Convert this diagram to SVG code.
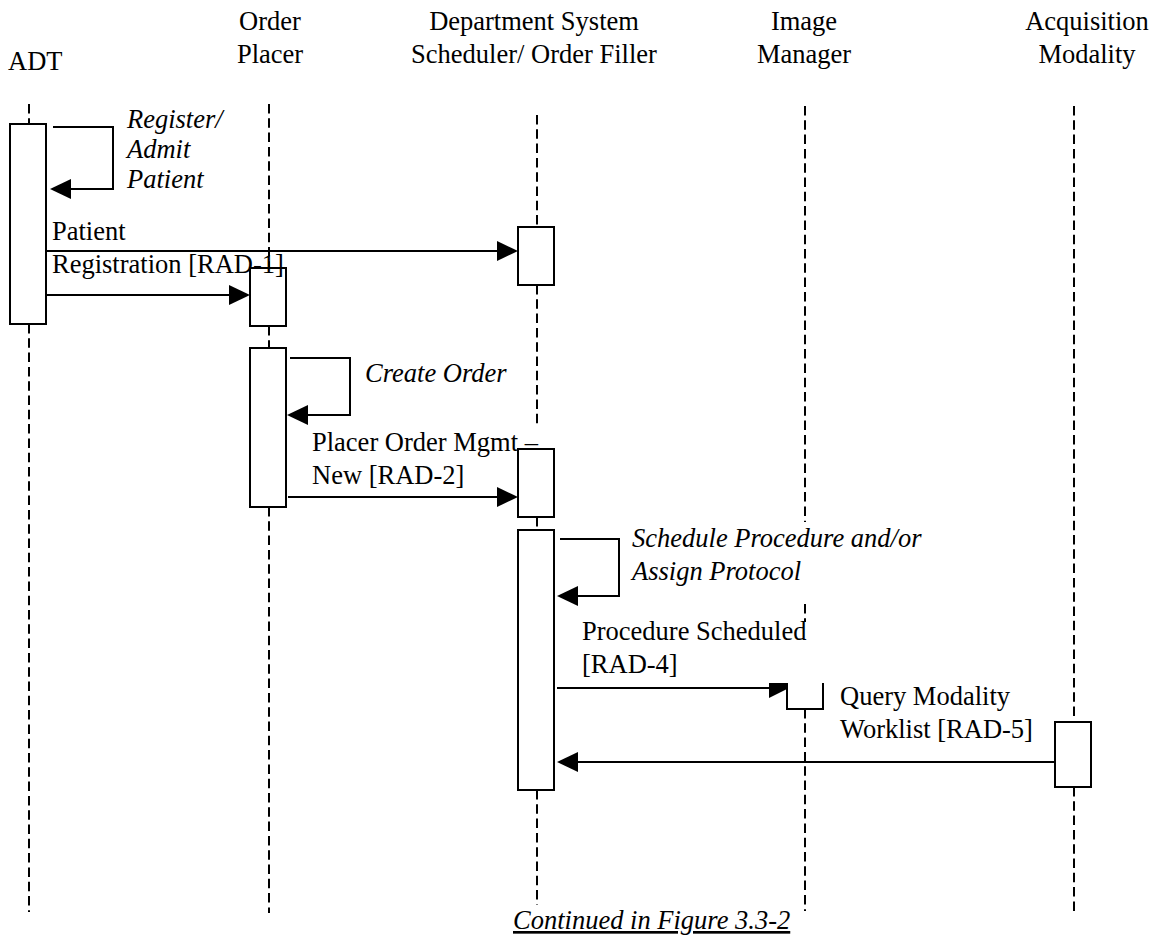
<svg xmlns="http://www.w3.org/2000/svg" width="1152" height="937" viewBox="0 0 1152 937">
<style>
text{font-family:"Liberation Serif","Times New Roman",serif;font-size:26.5px;fill:#000}
.it{font-style:italic}
.mid{text-anchor:middle}
.life{stroke:#000;stroke-width:2;stroke-dasharray:9.5 4.8;fill:none}
.box{fill:#fff;stroke:#000;stroke-width:2}
.msg{stroke:#000;stroke-width:2;fill:none}
.head{fill:#000;stroke:none}
</style>
<rect width="1152" height="937" fill="#fff"/>
<g id="lifelines">
<line class="life" x1="29" y1="104" x2="29" y2="124"/>
<line class="life" x1="29" y1="324" x2="29" y2="912"/>
<line class="life" x1="269" y1="104" x2="269" y2="268"/>
<line class="life" x1="269" y1="326" x2="269" y2="348"/>
<line class="life" x1="269" y1="507" x2="269" y2="913"/>
<line class="life" x1="537" y1="115" x2="537" y2="227"/>
<line class="life" x1="537" y1="285" x2="537" y2="425"/>
<line class="life" x1="537" y1="517" x2="537" y2="530"/>
<line class="life" x1="537" y1="790" x2="537" y2="905"/>
<line class="life" x1="805" y1="106" x2="805" y2="522"/>
<line class="life" x1="805" y1="604" x2="805" y2="622"/>
<line class="life" x1="805" y1="709" x2="805" y2="911"/>
<line class="life" x1="1074" y1="106" x2="1074" y2="722"/>
<line class="life" x1="1074" y1="787" x2="1074" y2="913"/>
</g>
<g id="ADT">
<text x="8" y="70">ADT</text>
<rect class="box" x="10" y="124" width="36" height="200"/>
</g>
<g id="OrderPlacer">
<text class="mid" x="270" y="30">Order</text>
<text class="mid" x="270" y="63">Placer</text>
<rect class="box" x="250" y="268" width="36" height="58"/>
<rect class="box" x="250" y="348" width="36" height="159"/>
</g>
<g id="DSS">
<text class="mid" x="534" y="30">Department System</text>
<text class="mid" x="534" y="63">Scheduler/ Order Filler</text>
<rect class="box" x="518" y="227" width="36" height="58"/>
<rect class="box" x="518" y="449" width="36" height="68"/>
<rect class="box" x="518" y="530" width="36" height="260"/>
</g>
<g id="ImageManager">
<text class="mid" x="804" y="30">Image</text>
<text class="mid" x="804" y="63">Manager</text>
<path class="msg" d="M787,683 V709 H823 V683"/>
</g>
<g id="AcquisitionModality">
<text class="mid" x="1087" y="30">Acquisition</text>
<text class="mid" x="1087" y="63">Modality</text>
<rect class="box" x="1055" y="722" width="36" height="65"/>
</g>
<g id="connectors">
<path class="msg" d="M53,127 H113 V189 H70"/>
<polygon class="head" points="50,189 71,179 71,199"/>
<line class="msg" x1="47" y1="251" x2="500" y2="251"/>
<polygon class="head" points="518,251 497,241 497,261"/>
<line class="msg" x1="47" y1="295" x2="232" y2="295"/>
<polygon class="head" points="250,295 229,285 229,305"/>
<path class="msg" d="M290,358 H350 V415 H305"/>
<polygon class="head" points="287,415 308,405 308,425"/>
<line class="msg" x1="288" y1="497" x2="500" y2="497"/>
<polygon class="head" points="518,497 497,487 497,507"/>
<path class="msg" d="M560,539 H619 V596 H575"/>
<polygon class="head" points="557,596 578,586 578,606"/>
<line class="msg" x1="557" y1="688" x2="772" y2="688"/>
<polygon class="head" points="769,683 787,683 787,689 769,698"/>
<line class="msg" x1="1055" y1="762" x2="575" y2="762"/>
<polygon class="head" points="557,762 578,752 578,772"/>
</g>
<g id="labels">
<text class="it" x="127" y="128">Register/</text>
<text class="it" x="127" y="158">Admit</text>
<text class="it" x="127" y="188">Patient</text>
<text x="52" y="240">Patient</text>
<text x="52" y="273">Registration [RAD-1]</text>
<text class="it" x="365" y="382">Create Order</text>
<text x="312" y="451">Placer Order Mgmt –</text>
<text x="312" y="484">New [RAD-2]</text>
<text class="it" x="632" y="547">Schedule Procedure and/or</text>
<text class="it" x="632" y="580">Assign Protocol</text>
<text x="582" y="640">Procedure Scheduled</text>
<text x="582" y="673">[RAD-4]</text>
<text x="840" y="705">Query Modality</text>
<text x="840" y="738">Worklist [RAD-5]</text>
<text class="it" x="513" y="929" text-decoration="underline">Continued in Figure 3.3-2</text>
</g>
</svg>
